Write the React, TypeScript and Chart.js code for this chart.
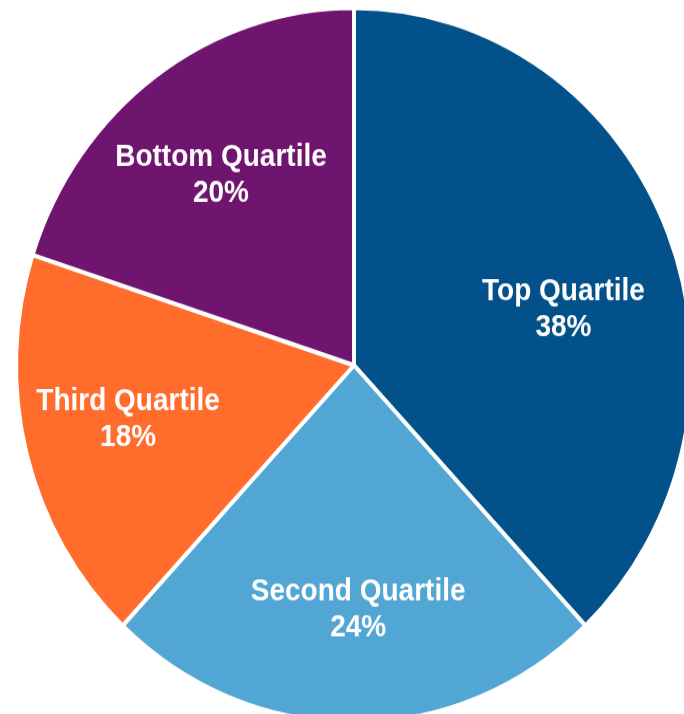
import React, { useEffect, useRef } from "react";
import { Chart, registerables } from "chart.js";

Chart.register(...registerables);

const categories = ["Top Quartile", "Second Quartile", "Third Quartile", "Bottom Quartile"];
const shares = [38, 24, 18, 20];
const sliceColors = ["#03518A", "#51A6D4", "#FF6C2C", "#6F156F"];

// label placement within each slice (fraction of the slice angle, fraction of radius)
const labelAngleFrac = [0.552, 0.488, 0.533, 0.497];
const labelRadiusFrac = [0.64, 0.68, 0.684, 0.666];

const STRETCH_Y = 1.057;
const BOX_W = 708;
const BOX_H = 691;

const sliceLabelPlugin = {
  id: "sliceLabels",
  afterDatasetsDraw(chart: any) {
    const ctx = chart.ctx;
    const meta = chart.getDatasetMeta(0);
    meta.data.forEach((arc: any, i: number) => {
      const p = arc.getProps(["x", "y", "startAngle", "endAngle", "outerRadius"], true);
      const a = p.startAngle + (p.endAngle - p.startAngle) * labelAngleFrac[i];
      const r = p.outerRadius * labelRadiusFrac[i];
      const cx = p.x + Math.cos(a) * r;
      const cy = p.y + Math.sin(a) * r;
      ctx.save();
      ctx.translate(cx, cy);
      ctx.scale(1, 1.06);
      ctx.fillStyle = "#ffffff";
      ctx.font = "bold 28px 'Liberation Sans', Arial, sans-serif";
      ctx.textAlign = "center";
      ctx.textBaseline = "alphabetic";
      ctx.fillText(String(chart.data.labels[i]), 0, -6.5);
      ctx.fillText(shares[i] + "%", 0, 25.5);
      ctx.restore();
    });
  },
};

export default function App() {
  const canvasRef = useRef<HTMLCanvasElement | null>(null);

  useEffect(() => {
    if (!canvasRef.current) return;
    const chart = new Chart(canvasRef.current, {
      type: "pie",
      data: {
        labels: categories,
        datasets: [
          {
            data: shares,
            backgroundColor: sliceColors,
            borderColor: "#ffffff",
            borderWidth: 4,
          },
        ],
      },
      options: {
        responsive: false,
        animation: false,
        radius: 338,
        layout: { padding: 0 },
        plugins: {
          legend: { display: false },
          tooltip: { enabled: false },
        },
      } as any,
      plugins: [sliceLabelPlugin],
    });
    return () => chart.destroy();
  }, []);

  return (
    <div
      style={{
        position: "fixed",
        left: 0,
        top: 0,
        width: 684,
        height: 714,
        overflow: "hidden",
        background: "#ffffff",
      }}
    >
      <div
        style={{
          position: "absolute",
          left: 0,
          top: 0,
          width: BOX_W,
          height: BOX_H,
          transform: `scaleY(${STRETCH_Y})`,
          transformOrigin: "0 0",
        }}
      >
        <canvas ref={canvasRef} width={BOX_W} height={BOX_H} style={{ display: "block" }} />
      </div>
    </div>
  );
}
